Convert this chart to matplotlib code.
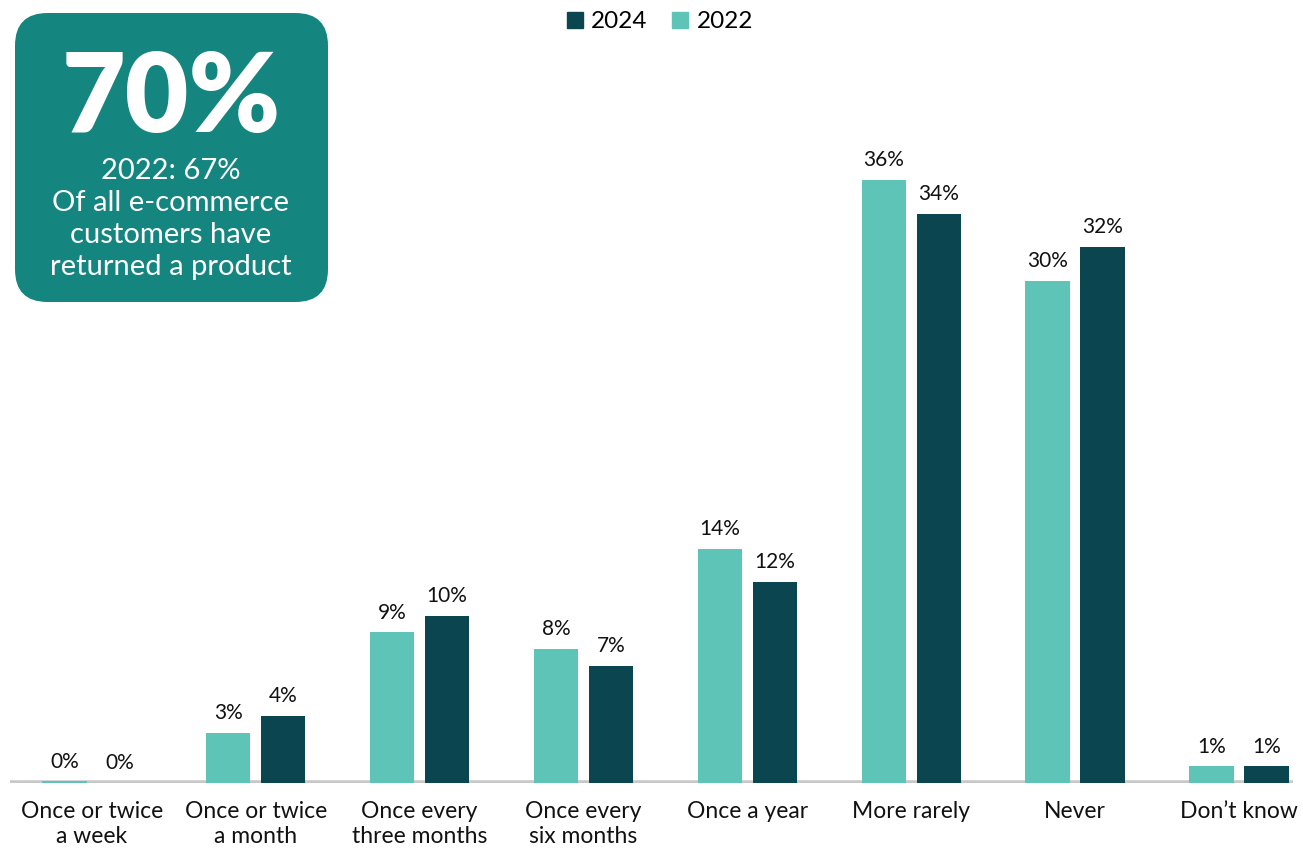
import matplotlib.pyplot as plt
import numpy as np
from matplotlib.patches import FancyBboxPatch, Patch

plt.rcParams['font.family'] = ['Lato', 'DejaVu Sans']

categories = ["Once or twice\na week", "Once or twice\na month", "Once every\nthree months",
              "Once every\nsix months", "Once a year", "More rarely", "Never", "Don\u2019t know"]
values_2022 = [0.1, 3, 9, 8, 14, 36, 30, 1]
values_2024 = [0, 4, 10, 7, 12, 34, 32, 1]

c_2022 = "#5fc4b8"
c_2024 = "#0b4650"
c_box = "#15857f"

W, H = 1303, 848
fig = plt.figure(figsize=(W / 100, H / 100), dpi=100)
ax = fig.add_axes([10 / W, (H - 783) / H, 1283 / W, 783 / H])

x = np.arange(len(categories))
bw = 0.27
off = 0.168
b22 = ax.bar(x - off, values_2022, width=bw, color=c_2022)
b24 = ax.bar(x + off, values_2024, width=bw, color=c_2024)

for bars, vals in [(b22, values_2022), (b24, values_2024)]:
    for b, v in zip(bars, vals):
        ax.annotate(f"{v:.0f}%", (b.get_x() + b.get_width() / 2, v),
                    xytext=(0, 7), textcoords="offset points",
                    ha="center", va="bottom", fontsize=15, color="#111111")

ax.set_xlim(-0.5, 7.33)
ax.set_ylim(0, 46.75)
ax.axhline(0, color="#c8c8c8", linewidth=4, zorder=0)
for s in ax.spines.values():
    s.set_visible(False)
ax.set_yticks([])
ax.set_xticks(x)
ax.set_xticklabels(categories, fontsize=16.5, color="#111111", linespacing=1.25)
ax.tick_params(axis="x", length=0, pad=13)

# legend
handles = [Patch(color=c_2024, label="2024"), Patch(color=c_2022, label="2022")]
fig.legend(handles=handles, loc="center", bbox_to_anchor=(660 / W, 1 - 22 / H), ncol=2,
           frameon=False, fontsize=17.5, handlelength=0.65, handleheight=0.65,
           handletextpad=0.35, columnspacing=1.0)

# callout box
box = FancyBboxPatch((15 / W, 1 - 302 / H), 313 / W, 289 / H,
                     boxstyle="round,pad=0,rounding_size=0.025",
                     transform=fig.transFigure, facecolor=c_box, edgecolor="none",
                     mutation_aspect=W / H)
fig.patches.append(box)
fig.text(171 / W, 1 - 100 / H, "70%", ha="center", va="center", fontsize=79,
         fontweight="heavy", color="white")
sub = ["2022: 67%", "Of all e-commerce", "customers have", "returned a product"]
for i, line in enumerate(sub):
    fig.text(171 / W, 1 - (171 + 32 * i) / H, line, ha="center", va="center",
             fontsize=21, color="white")

fig.savefig("out.png", dpi=100)
